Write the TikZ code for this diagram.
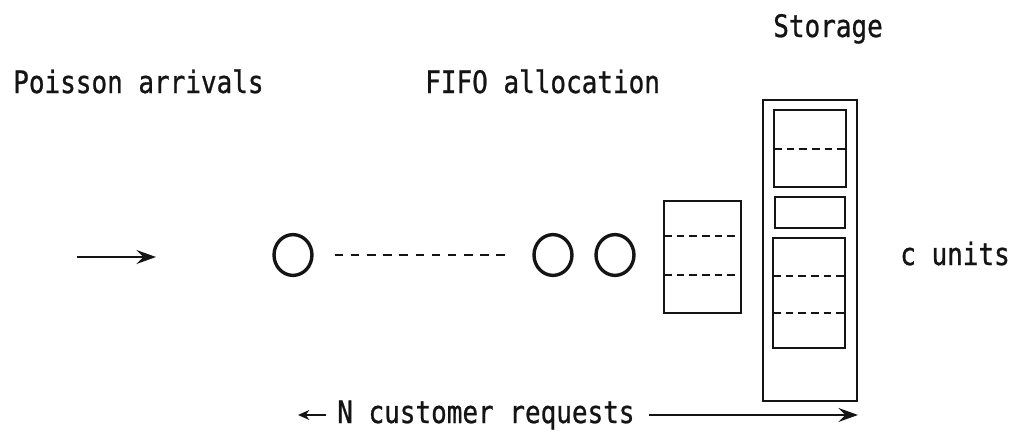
\documentclass[tikz,border=0pt]{standalone}
\usepackage{fontspec}
\usepackage{tikz}
\usetikzlibrary{arrows.meta,positioning,calc,shapes.geometric}
\newfontfamily\typefont[FakeStretch=0.84,FakeBold=0.8]{DejaVu Sans Mono}
\definecolor{inkline}{RGB}{20,20,20}

\begin{document}
\begin{tikzpicture}[x=0.025cm,y=-0.025cm,
  lbl/.style={anchor=base west,inner sep=0,text=inkline,font=\fontsize{22}{26}\typefont},
  cust/.style={draw=inkline,ellipse,line width=2.4pt,minimum width=27pt,minimum height=29pt,inner sep=0},
  cell/.style={draw=inkline,line width=1.8pt},
  slot/.style={draw=inkline,line width=1.3pt,dash pattern=on 5.5pt off 3.5pt},
  flow/.style={draw=inkline,line width=1.4pt,-{Stealth[length=14pt,width=10pt,inset=5pt]}},
  back/.style={draw=inkline,line width=1.2pt,-{Stealth[length=8pt,width=7pt,inset=2.5pt]}}]
  \useasboundingbox (0,0) rectangle (1014,435);
  \node[lbl] (storage) at (773,37) {Storage};
  \node[lbl] (arrivals) at (13,93) {Poisson arrivals};
  \node[lbl] (fifo) at (425,93) {FIFO allocation};
  \node[lbl] (units) at (900,265) {c units};
  \node[lbl] (req) at (337,423) {N customer requests};
  \coordinate (inA) at (77,257);
  \coordinate (inB) at (156,257);
  \draw[flow] (inA) -- (inB);
  \node[cust] (c1) at (293,255) {};
  \node[cust] (c2) at (553,255) {};
  \node[cust] (c3) at (615,255) {};
  \draw[inkline,line width=1.8pt,dash pattern=on 6pt off 5.5pt,shorten <=15pt,shorten >=17pt] (c1) -- (c2);
  \draw[cell] (664,201) rectangle (741,313);
  \draw[slot] (664,236) -- (741,236);
  \draw[slot] (664,275) -- (741,275);
  \draw[cell] (763,100) rectangle (857,401);
  \draw[cell] (774,110) rectangle (846,187);
  \draw[slot] (774,149) -- (846,149);
  \draw[cell] (775,197) rectangle (845,228);
  \draw[cell] (773,238) rectangle (845,348);
  \draw[slot] (773,276) -- (845,276);
  \draw[slot] (773,313) -- (845,313);
  \coordinate (reqL) at (298,0);
  \coordinate (reqR) at (858,0);
  \draw[back,shorten <=8pt] (req.west) -- (req.west -| reqL);
  \draw[flow,shorten <=10pt] (req.east) -- (req.east -| reqR);
\end{tikzpicture}
\end{document}
